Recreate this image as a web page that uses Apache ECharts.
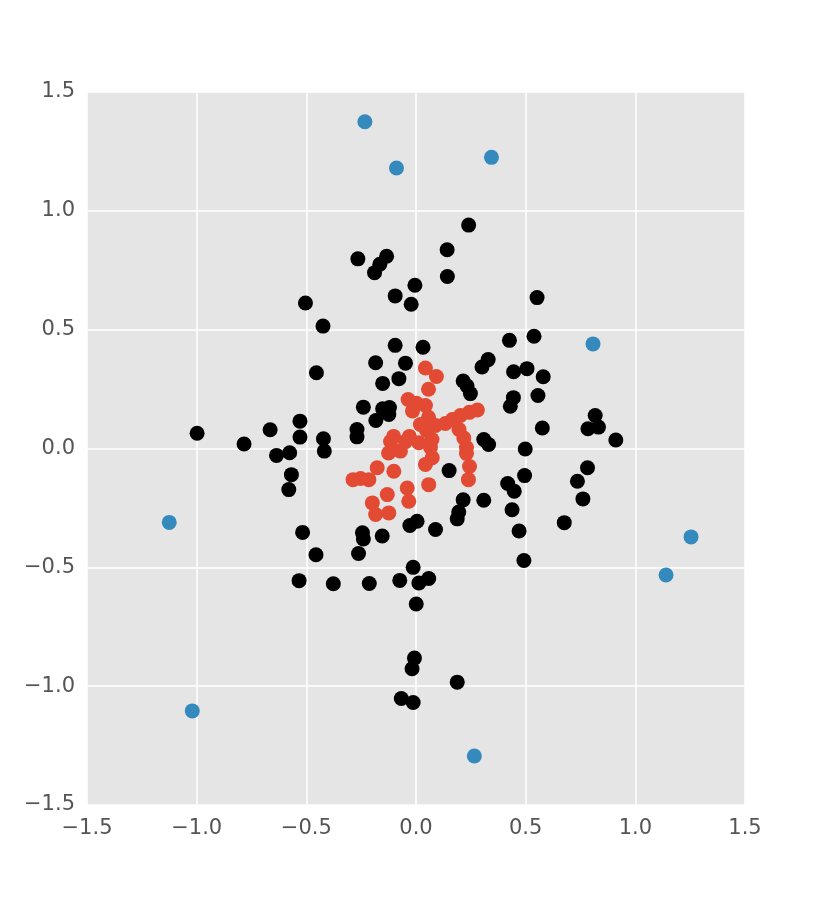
<!DOCTYPE html>
<html>
<head>
<meta charset="utf-8">
<script src="https://cdn.jsdelivr.net/npm/echarts@6/dist/echarts.min.js"></script>
<style>
  html, body { margin: 0; padding: 0; background: #fff; }
  #chart { width: 831px; height: 898px; }
</style>
</head>
<body>
<div id="chart"></div>
<script>
// inliers, black
const blackX = [-0.265, -0.134, -0.165, -0.189, -0.005, -0.095, -0.022, -0.504, -0.424, -0.095,
  0.032, -0.184, -0.048, -0.454, -0.078, -0.152, -0.240, -0.152, -0.121, -0.124,
  -0.183, -0.269, -0.269, -0.529, -0.665, -0.529, -0.422, -0.998, -0.784, -0.636,
  -0.576, -0.418, -0.568, -0.580, -0.517, -0.456, -0.244, -0.240, -0.154, -0.262,
  -0.028, 0.005, -0.533, -0.377, -0.213, -0.074, -0.013, 0.013, 0.058, 0.001,
  -0.007, -0.018, -0.067, -0.013, 0.188, 0.498, 0.782, 0.736, 0.761, 0.676,
  0.495, 0.418, 0.448, 0.438, 0.470, 0.492, 0.151, 0.215, 0.309, 0.195,
  0.188, 0.089, 0.911, 0.331, 0.240, 0.142, 0.143, 0.552, 0.426, 0.538,
  0.329, 0.301, 0.445, 0.506, 0.580, 0.215, 0.233, 0.248, 0.444, 0.430,
  0.556, 0.817, 0.784, 0.832, 0.576, 0.309]
const blackY = [0.798, 0.809, 0.775, 0.740, 0.687, 0.642, 0.607, 0.612, 0.515, 0.434,
  0.426, 0.361, 0.359, 0.319, 0.294, 0.274, 0.174, 0.167, 0.172, 0.143,
  0.118, 0.080, 0.049, 0.115, 0.079, 0.048, 0.041, 0.064, 0.019, -0.029,
  -0.018, -0.011, -0.110, -0.173, -0.353, -0.447, -0.355, -0.381, -0.368, -0.442,
  -0.324, -0.306, -0.556, -0.569, -0.568, -0.555, -0.500, -0.566, -0.547, -0.654,
  -0.882, -0.927, -1.052, -1.069, -0.983, -0.002, -0.081, -0.138, -0.212, -0.312,
  -0.114, -0.147, -0.180, -0.258, -0.347, -0.471, -0.093, -0.216, -0.218, -0.267,
  -0.296, -0.341, 0.036, 0.017, 0.940, 0.836, 0.724, 0.635, 0.455, 0.472,
  0.374, 0.343, 0.323, 0.336, 0.302, 0.284, 0.263, 0.231, 0.214, 0.178,
  0.223, 0.139, 0.083, 0.090, 0.086, 0.038]

// inner cluster, red
const redX = [0.043, 0.093, 0.057, -0.036, 0.002, 0.043, -0.016, 0.057, 0.089, 0.134,
  0.166, 0.203, 0.243, 0.280, 0.196, 0.218, 0.230, 0.230, 0.244, 0.239,
  0.073, 0.048, 0.013, -0.030, -0.048, -0.102, -0.116, -0.071, -0.125, -0.101,
  -0.177, -0.215, -0.253, -0.287, -0.131, -0.040, -0.033, -0.199, -0.184, -0.124,
  0.074, 0.043, 0.058, 0.066, 0.020]
const redY = [0.339, 0.303, 0.249, 0.206, 0.190, 0.181, 0.158, 0.131, 0.097, 0.105,
  0.122, 0.139, 0.152, 0.162, 0.080, 0.044, 0.004, -0.021, -0.076, -0.131,
  0.038, 0.076, 0.024, 0.051, 0.029, 0.051, 0.029, -0.011, -0.019, -0.096,
  -0.081, -0.131, -0.126, -0.131, -0.194, -0.166, -0.222, -0.229, -0.278, -0.271,
  -0.039, -0.067, -0.152, 0.004, 0.101]

// outliers, blue
const blueX = [-0.233, -0.089, 0.344, 0.807, -1.125, -1.020, 0.266, 1.254, 1.140]
const blueY = [1.375, 1.180, 1.225, 0.440, -0.311, -1.104, -1.294, -0.372, -0.532]

const ticks = [-1.5, -1.0, -0.5, 0.0, 0.5, 1.0, 1.5]

const pairs = (xs, ys) => xs.map((x, i) => [x, ys[i]])
const fmt = (v) => v.toFixed(1).replace('-', '\u2212')

const axisCommon = {
  type: 'value',
  min: ticks[0],
  max: ticks[ticks.length - 1],
  interval: 0.5,
  axisLine: { show: false },
  axisTick: { show: false },
  axisLabel: {
    color: '#555555',
    fontSize: 21,
    fontFamily: 'DejaVu Sans',
    formatter: fmt,
  },
  splitLine: { show: true, lineStyle: { color: '#ffffff', width: 1.5 } },
}

const chart = echarts.init(document.getElementById('chart'), null, { renderer: 'canvas' })
chart.setOption({
  backgroundColor: '#ffffff',
  animation: false,
  grid: {
    left: 87,
    right: 86,
    top: 92,
    bottom: 93,
    show: true,
    backgroundColor: '#E5E5E5',
    borderWidth: 0,
  },
  xAxis: { ...axisCommon, axisLabel: { ...axisCommon.axisLabel, margin: 13 } },
  yAxis: { ...axisCommon, axisLabel: { ...axisCommon.axisLabel, margin: 12 } },
  series: [
    {
      type: 'scatter',
      data: pairs(blackX, blackY),
      symbolSize: 15,
      itemStyle: { color: '#000000', opacity: 1 },
    },
    {
      type: 'scatter',
      data: pairs(redX, redY),
      symbolSize: 15,
      itemStyle: { color: '#E24A33', opacity: 1 },
    },
    {
      type: 'scatter',
      data: pairs(blueX, blueY),
      symbolSize: 15,
      itemStyle: { color: '#348ABD', opacity: 1 },
    },
  ],
})
</script>
</body>
</html>
